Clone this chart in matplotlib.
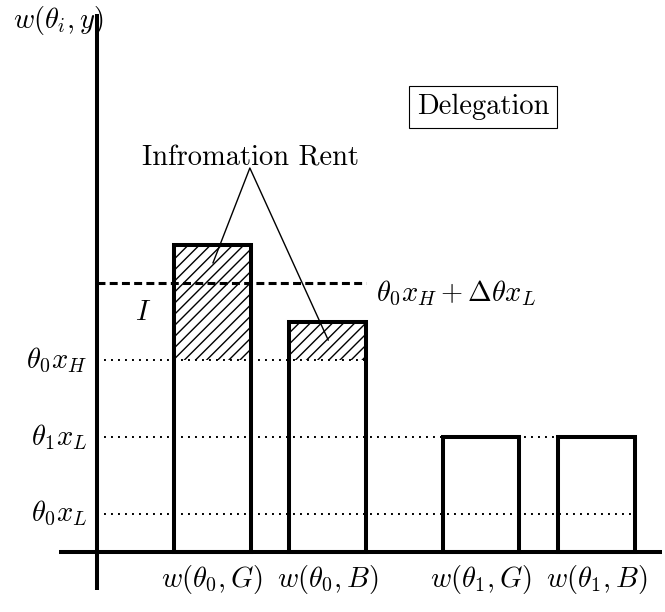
import numpy as np
import matplotlib.pyplot as plt

plt.rcParams['mathtext.fontset'] = 'cm'
plt.rcParams['font.family'] = 'serif'
plt.rcParams['font.serif'] = ['cmr10', 'DejaVu Serif']
plt.rcParams['axes.formatter.use_mathtext'] = True
plt.rcParams['hatch.linewidth'] = 1.0

# bars (left edge, height) in diagram units
bar_left = [2, 5, 9, 12]
bar_width = 2
bar_height = [8, 6, 3, 3]
bar_labels = [r'$w(\theta_0,G)$', r'$w(\theta_0,B)$', r'$w(\theta_1,G)$', r'$w(\theta_1,B)$']

# levels on the vertical axis
theta0_xL = 1
theta1_xL = 3
theta0_xH = 5
threshold = 7
level_labels = [r'$\theta_0x_H$', r'$\theta_1x_L$', r'$\theta_0x_L$']
level_values = [theta0_xH, theta1_xL, theta0_xL]
level_ends = [7, 14, 14]

fig = plt.figure(figsize=(6.65, 6.12), dpi=100)
ax = fig.add_axes([0, 0, 1, 1])
ax.set_xlim(-2.526, 14.79)
ax.set_ylim(-1.5625, 14.375)
ax.axis('off')

fs = 20.5

# dotted level lines
for v, e in zip(level_values, level_ends):
    ax.plot([0, e], [v, v], color='black', lw=1.4, linestyle=(0, (1, 2.6)), zorder=1)
for lab, v in zip(level_labels, level_values):
    ax.text(-0.26, v, lab, ha='right', va='center', fontsize=fs)

# information rent hatching
for i in range(2):
    ax.bar(bar_left[i], bar_height[i] - theta0_xH, width=bar_width, bottom=theta0_xH,
           align='edge', fill=False, hatch='///', edgecolor='black', lw=0, zorder=2)

# bars
centers = np.array(bar_left) + bar_width / 2
ax.bar(bar_left, bar_height, width=bar_width, align='edge', fill=False,
       edgecolor='black', lw=2.9, zorder=3)
for c, lab in zip(centers, bar_labels):
    ax.text(c, -0.72, lab, ha='center', va='center', fontsize=fs)

# threshold dashed line
ax.plot([0, 7], [threshold, threshold], color='black', lw=2.2,
        linestyle=(0, (2.6, 1.4)), zorder=4)
ax.text(7.27, threshold - 0.27, r'$\theta_0x_H+\Delta\theta x_L$', ha='left', va='center', fontsize=fs)
ax.text(1.2, 6.22, r'$I$', ha='center', va='center', fontsize=fs)

# axes
ax.plot([0, 0], [-1, 14], color='black', lw=2.9, solid_capstyle='butt', zorder=5)
ax.plot([-1, 14.7], [0, 0], color='black', lw=2.9, solid_capstyle='butt', zorder=5)
ax.text(0.16, 13.85, r'$w(\theta_i,y)$', ha='right', va='center', fontsize=fs, zorder=4)

# annotation
ax.text(4.0, 10.26, 'Infromation Rent', ha='center', va='center', fontsize=fs)
ax.plot([3.02, 3.98, 6.02], [7.53, 10.0, 5.52], color='black', lw=1.0, zorder=4)

ax.text(10.05, 11.59, 'Delegation', ha='center', va='center', fontsize=fs,
        bbox=dict(boxstyle='square,pad=0.28', fc='white', ec='black', lw=0.8))

fig.savefig('out.png', dpi=100)
